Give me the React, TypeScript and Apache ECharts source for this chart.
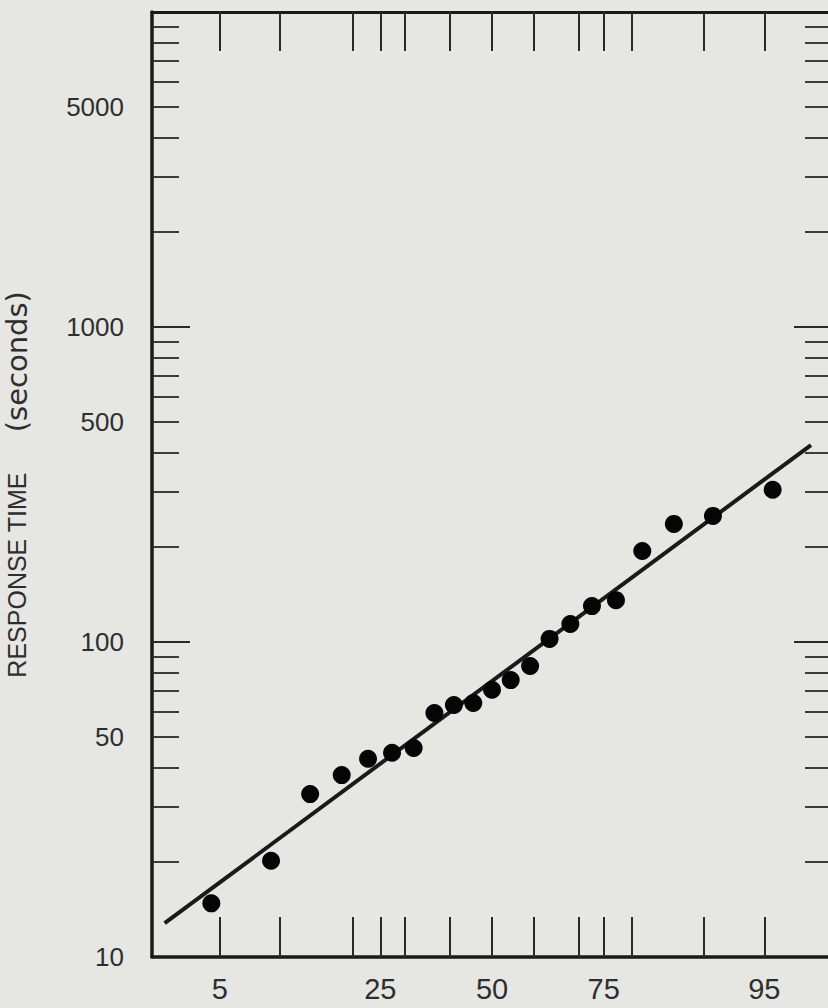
import React, { useEffect, useRef } from 'react';
import * as echarts from 'echarts';

// Cumulative percent (probability scale) and response time in seconds
const percentiles = [4.5, 9.1, 13.6, 18.2, 22.7, 27.3, 31.8, 36.4, 40.9, 45.5, 50.0, 54.5, 59.1, 63.6, 68.2, 72.7, 77.3, 81.8, 86.4, 90.9, 95.5];
const responseTimes = [14.8, 20.2, 32.9, 37.8, 42.6, 44.5, 46.1, 59.5, 63.1, 64.0, 70.5, 75.7, 83.9, 102.3, 114.1, 130.0, 135.8, 194.5, 237.1, 251.4, 304.3];

// Fitted line end points
const fitPercentiles = [2.4, 97.3];
const fitTimes = [12.8, 422];

// Axis ticks and labels
const xTickPercents = [5, 10, 20, 25, 30, 40, 50, 60, 70, 75, 80, 90, 95];
const xLabelPercents = [5, 25, 50, 75, 95];
const xRangePercents = [2, 98];
const yMinorTicks = [20, 30, 40, 50, 60, 70, 80, 90, 200, 300, 400, 500, 600, 700, 800, 900, 2000, 3000, 4000, 5000, 6000, 7000, 8000, 9000];
const yMajorTicks = [100, 1000];
const yLabels = [10, 50, 100, 500, 1000, 5000];
const yRange = [10, 10000];

// Inverse standard normal CDF (probability-paper scale)
function probit(p: number): number {
  const a = [-3.969683028665376e1, 2.209460984245205e2, -2.759285104469687e2, 1.38357751867269e2, -3.066479806614716e1, 2.506628277459239];
  const b = [-5.447609879822406e1, 1.615858368580409e2, -1.556989798598866e2, 6.680131188771972e1, -1.328068155288572e1];
  const c = [-7.784894002430293e-3, -3.223964580411365e-1, -2.400758277161838, -2.549671625768622, 4.374664141464968, 2.938163982698783];
  const d = [7.784695709041462e-3, 3.224671290700398e-1, 2.445134137142996, 3.754408661907416];
  const pl = 0.02425;
  if (p < pl) {
    const q = Math.sqrt(-2 * Math.log(p));
    return (((((c[0] * q + c[1]) * q + c[2]) * q + c[3]) * q + c[4]) * q + c[5]) / ((((d[0] * q + d[1]) * q + d[2]) * q + d[3]) * q + 1);
  }
  if (p > 1 - pl) {
    const q = Math.sqrt(-2 * Math.log(1 - p));
    return -(((((c[0] * q + c[1]) * q + c[2]) * q + c[3]) * q + c[4]) * q + c[5]) / ((((d[0] * q + d[1]) * q + d[2]) * q + d[3]) * q + 1);
  }
  const q = p - 0.5;
  const r = q * q;
  return (((((a[0] * r + a[1]) * r + a[2]) * r + a[3]) * r + a[4]) * r + a[5]) * q / (((((b[0] * r + b[1]) * r + b[2]) * r + b[3]) * r + b[4]) * r + 1);
}

const z = (pct: number) => probit(pct / 100);

const INK = '#1a1a1a';
const TEXT = '#2e2e2e';
const BG = '#e6e6e3';

export default function App() {
  const ref = useRef<HTMLDivElement>(null);
  useEffect(() => {
    if (!ref.current) return;
    const chart = echarts.init(ref.current, undefined, { renderer: 'svg' });
    const xMin = z(xRangePercents[0]);
    const xMax = z(xRangePercents[1]);
    const xTicks = xTickPercents.map(z);
    const xLabelVals = xLabelPercents.map(z);
    const xFmt = (v: number) => {
      let best = xLabelPercents[0];
      let bd = Infinity;
      xLabelPercents.forEach((p) => {
        const dd = Math.abs(z(p) - v);
        if (dd < bd) { bd = dd; best = p; }
      });
      return String(best);
    };
    const baseY = {
      type: 'log' as const,
      logBase: 10,
      min: yRange[0],
      max: yRange[1],
      splitLine: { show: false },
      minorTick: { show: false },
    };
    const tickStyle = { color: '#2a2a2a', width: 1.8 };
    chart.setOption({
      animation: false,
      backgroundColor: BG,
      grid: { left: 152, top: 12, width: 680, height: 945, containLabel: false, outerBoundsMode: 'none' },
      xAxis: [
        {
          type: 'value',
          position: 'bottom',
          min: xMin,
          max: xMax,
          splitLine: { show: false },
          axisLine: { show: true, onZero: false, lineStyle: { color: INK, width: 3.5 } },
          axisTick: { show: true, inside: true, length: 40, customValues: xTicks, lineStyle: { color: '#2a2a2a', width: 2 } },
          axisLabel: {
            show: true,
            customValues: xLabelVals,
            formatter: xFmt,
            margin: 17,
            fontSize: 29,
            color: TEXT,
            fontFamily: 'Liberation Sans',
          },
        },
        {
          type: 'value',
          position: 'top',
          min: xMin,
          max: xMax,
          splitLine: { show: false },
          axisLine: { show: true, onZero: false, lineStyle: { color: INK, width: 3 } },
          axisTick: { show: true, inside: true, length: 39, customValues: xTicks, lineStyle: { color: '#2a2a2a', width: 2 } },
          axisLabel: { show: false },
        },
      ],
      yAxis: [
        {
          ...baseY,
          position: 'left',
          axisLine: { show: true, onZero: false, lineStyle: { color: INK, width: 3.5 } },
          axisTick: { show: true, inside: true, length: 27, customValues: yMinorTicks, lineStyle: tickStyle },
          axisLabel: {
            show: true,
            customValues: yLabels,
            formatter: (v: number) => String(Math.round(v)),
            margin: 28,
            fontSize: 26,
            color: TEXT,
            fontFamily: 'Liberation Sans',
          },
          name: '{a|RESPONSE TIME}{b|(seconds)}',
          nameLocation: 'middle',
          nameRotate: 90,
          nameGap: 120,
          nameTextStyle: {
            color: TEXT,
            rich: {
              a: { fontSize: 25, fontFamily: 'Liberation Sans', color: TEXT, lineHeight: 30 },
              b: { fontSize: 29, fontFamily: 'DejaVu Sans', color: TEXT, lineHeight: 30, padding: [0, 0, 0, 40] },
            },
          },
        },
        {
          ...baseY,
          position: 'left',
          axisLine: { show: false, onZero: false },
          axisTick: { show: true, inside: true, length: 38, customValues: yMajorTicks, lineStyle: tickStyle },
          axisLabel: { show: false },
        },
        {
          ...baseY,
          position: 'right',
          axisLine: { show: true, onZero: false, lineStyle: { color: INK, width: 3.5 } },
          axisTick: { show: true, inside: true, length: 27, customValues: yMinorTicks, lineStyle: tickStyle },
          axisLabel: { show: false },
        },
        {
          ...baseY,
          position: 'right',
          axisLine: { show: false, onZero: false },
          axisTick: { show: true, inside: true, length: 38, customValues: yMajorTicks, lineStyle: tickStyle },
          axisLabel: { show: false },
        },
      ],
      series: [
        {
          type: 'line',
          xAxisIndex: 0,
          yAxisIndex: 0,
          data: fitPercentiles.map((p, i) => [z(p), fitTimes[i]]),
          symbol: 'none',
          lineStyle: { color: INK, width: 4 },
          z: 3,
        },
        {
          type: 'scatter',
          xAxisIndex: 0,
          yAxisIndex: 0,
          data: percentiles.map((p, i) => [z(p), responseTimes[i]]),
          symbol: 'circle',
          symbolSize: 18,
          itemStyle: { color: '#050505', opacity: 1 },
          z: 4,
        },
      ],
    });
    return () => chart.dispose();
  }, []);
  return (
    <div
      ref={ref}
      style={{ position: 'absolute', left: 0, top: 0, width: 828, height: 1008, background: BG }}
    />
  );
}
